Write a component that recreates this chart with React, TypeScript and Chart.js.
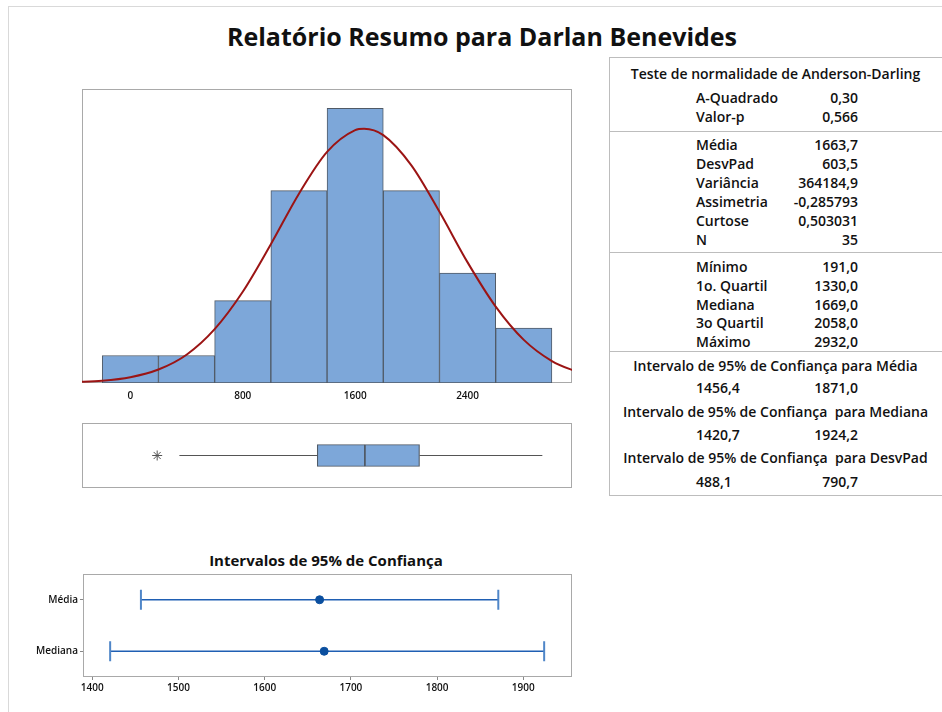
import React, { useEffect, useRef } from "react";
import { Chart, registerables } from "chart.js";

Chart.register(...registerables);

// ---------- data ----------
const TITLE = "Relatório Resumo para Darlan Benevides";

const BIN_CENTERS = [0, 400, 800, 1200, 1600, 2000, 2400, 2800];
const BIN_COUNTS = [1, 1, 3, 7, 10, 7, 4, 2];
const HIST_TICKS = [0, 800, 1600, 2400];
const HIST_X_MIN = -344;
const HIST_X_MAX = 3143;
const HIST_Y_MAX = 10.7;

// fitted normal curve
const CURVE_X = [-400, -200, 0, 200, 400, 600, 800, 1000, 1200, 1400, 1600, 1663.7, 1800, 2000, 2200, 2400, 2600, 2800, 3000, 3200];
const CURVE_Y = [0.03, 0.08, 0.21, 0.49, 1.03, 1.96, 3.32, 5.05, 6.89, 8.41, 9.2, 9.25, 9.02, 7.92, 6.23, 4.39, 2.78, 1.57, 0.8, 0.36];

// boxplot
const BOX_WHISKER_LOW = 349;
const BOX_Q1 = 1330;
const BOX_MEDIAN = 1669;
const BOX_Q3 = 2058;
const BOX_WHISKER_HIGH = 2932;
const BOX_OUTLIERS = [191];

// confidence intervals
const CI_ROWS = ["Média", "Mediana"];
const CI_CENTER = [1663.7, 1669.0];
const CI_LOW = [1456.4, 1420.7];
const CI_HIGH = [1871.0, 1924.2];
const CI_TICKS = [1400, 1500, 1600, 1700, 1800, 1900];
const CI_X_MIN = 1389.2;
const CI_X_MAX = 1956.5;
const CI_TITLE = "Intervalos de 95% de Confiança";

// table
const AD_TITLE = "Teste de normalidade de Anderson-Darling";
const AD_LABELS = ["A-Quadrado", "Valor-p"];
const AD_VALUES = ["0,30", "0,566"];
const MOMENT_LABELS = ["Média", "DesvPad", "Variância", "Assimetria", "Curtose", "N"];
const MOMENT_VALUES = ["1663,7", "603,5", "364184,9", "-0,285793", "0,503031", "35"];
const QUART_LABELS = ["Mínimo", "1o. Quartil", "Mediana", "3o Quartil", "Máximo"];
const QUART_VALUES = ["191,0", "1330,0", "1669,0", "2058,0", "2932,0"];
const CI_TABLE_TITLES = [
  "Intervalo de 95% de Confiança para Média",
  "Intervalo de 95% de Confiança  para Mediana",
  "Intervalo de 95% de Confiança  para DesvPad",
];
const CI_TABLE_LOW = ["1456,4", "1420,7", "488,1"];
const CI_TABLE_HIGH = ["1871,0", "1924,2", "790,7"];

// ---------- styles ----------
const FONT = "'Open Sans', 'Noto Sans', sans-serif";
const BAR_FILL = "#7da7d9";
const BAR_EDGE = "#505a66";
const FRAME = "#a9a9a9";
const CURVE = "#9b1414";
const CI_BLUE = "#1f5fb3";
const CI_CAP = "#4f86c8";
const CI_DOT = "#0b4f9f";
const TICK_FONT = { family: FONT, size: 10, weight: "600" };

const framePlugin = {
  id: "frame",
  beforeDatasetsDraw(chart: any) {
    const { ctx, chartArea: a } = chart;
    ctx.save();
    ctx.strokeStyle = FRAME;
    ctx.lineWidth = 1;
    ctx.strokeRect(
      Math.round(a.left) + 0.5,
      Math.round(a.top) + 0.5,
      Math.round(a.right - a.left) - 1,
      Math.round(a.bottom - a.top) - 1
    );
    ctx.restore();
  },
};

function useChart(ref: React.RefObject<HTMLCanvasElement | null>, make: () => any) {
  useEffect(() => {
    if (!ref.current) return;
    const chart = new Chart(ref.current, make());
    return () => chart.destroy();
  }, []);
}

const zeroPad = (s: any) => {
  s.paddingTop = 0;
  s.paddingBottom = 0;
  s.paddingLeft = 0;
  s.paddingRight = 0;
};

const baseOptions = {
  animation: false,
  responsive: false,
  maintainAspectRatio: false,
  layout: { padding: 0, autoPadding: false },
  plugins: { legend: { display: false }, tooltip: { enabled: false } },
};

function Histogram() {
  const ref = useRef<HTMLCanvasElement>(null);
  useChart(ref, () => ({
    type: "bar",
    data: {
      datasets: [
        {
          type: "line",
          data: CURVE_X.map((x, i) => ({ x, y: CURVE_Y[i] })),
          borderColor: CURVE,
          borderWidth: 2,
          pointRadius: 0,
          cubicInterpolationMode: "monotone",
          order: 0,
        },
        {
          type: "bar",
          data: BIN_CENTERS.map((x, i) => ({ x, y: BIN_COUNTS[i] })),
          backgroundColor: BAR_FILL,
          borderColor: BAR_EDGE,
          borderWidth: 1,
          borderSkipped: false,
          barPercentage: 1,
          categoryPercentage: 1,
          order: 1,
        },
      ],
    },
    plugins: [framePlugin],
    options: {
      ...baseOptions,
      scales: {
        x: {
          type: "linear",
          offset: false,
          min: HIST_X_MIN,
          max: HIST_X_MAX,
          grid: { display: false, offset: false },
          border: { display: false },
          afterBuildTicks: (s: any) => {
            s.ticks = HIST_TICKS.map((v) => ({ value: v }));
          },
          afterFit: (s: any) => {
            s.height = 22;
            zeroPad(s);
          },
          ticks: {
            padding: -1,
            maxRotation: 0,
            color: "#111",
            font: TICK_FONT,
            callback: (v: any) => String(v),
          },
        },
        y: { display: false, min: 0, max: HIST_Y_MAX },
      },
    },
  }));
  return <canvas ref={ref} width={490} height={316} style={{ position: "absolute", left: 82, top: 89 }} />;
}

function BoxPlot() {
  const ref = useRef<HTMLCanvasElement>(null);
  useChart(ref, () => ({
    type: "bar",
    data: {
      datasets: [
        {
          type: "scatter",
          data: [
            { x: BOX_WHISKER_LOW, y: 0 },
            { x: BOX_Q1, y: 0 },
          ],
          showLine: true,
          borderColor: "#555",
          borderWidth: 1,
          pointRadius: 0,
        },
        {
          type: "scatter",
          data: [
            { x: BOX_Q3, y: 0 },
            { x: BOX_WHISKER_HIGH, y: 0 },
          ],
          showLine: true,
          borderColor: "#555",
          borderWidth: 1,
          pointRadius: 0,
        },
        {
          type: "scatter",
          data: BOX_OUTLIERS.map((x) => ({ x, y: 0 })),
          pointStyle: "star",
          pointRadius: 5,
          borderColor: "#555",
          pointBorderWidth: 1,
        },
        {
          type: "bar",
          data: [{ x: [BOX_Q1, BOX_MEDIAN], y: 0 }],
          backgroundColor: BAR_FILL,
          borderColor: BAR_EDGE,
          borderWidth: 1.2,
          borderSkipped: false,
          barThickness: 22,
          grouped: false,
        },
        {
          type: "bar",
          data: [{ x: [BOX_MEDIAN, BOX_Q3], y: 0 }],
          backgroundColor: BAR_FILL,
          borderColor: BAR_EDGE,
          borderWidth: 1.2,
          borderSkipped: false,
          barThickness: 22,
          grouped: false,
        },
      ],
    },
    plugins: [framePlugin],
    options: {
      ...baseOptions,
      indexAxis: "y",
      scales: {
        x: { type: "linear", display: false, offset: false, min: HIST_X_MIN, max: HIST_X_MAX },
        y: { type: "linear", display: false, offset: false, min: -1, max: 1 },
      },
    },
  }));
  return <canvas ref={ref} width={490} height={65} style={{ position: "absolute", left: 82, top: 423 }} />;
}

function CIChart() {
  const ref = useRef<HTMLCanvasElement>(null);
  useChart(ref, () => ({
    type: "scatter",
    data: {
      datasets: [
        {
          data: CI_CENTER.map((x, i) => ({ x, y: CI_ROWS[i] })),
          pointRadius: 4,
          pointBackgroundColor: CI_DOT,
          pointBorderColor: CI_DOT,
          order: 0,
        },
        ...CI_ROWS.map((r, i) => ({
          data: [
            { x: CI_LOW[i], y: r },
            { x: CI_HIGH[i], y: r },
          ],
          showLine: true,
          borderColor: CI_BLUE,
          borderWidth: 1.5,
          pointStyle: "line",
          rotation: 90,
          pointRadius: 10,
          pointBorderWidth: 2,
          pointBorderColor: CI_CAP,
          order: 1,
        })),
      ],
    },
    plugins: [framePlugin],
    options: {
      ...baseOptions,
      scales: {
        x: {
          type: "linear",
          min: CI_X_MIN,
          max: CI_X_MAX,
          grid: { display: true, drawOnChartArea: false, drawTicks: true, tickLength: 3, color: "#888" },
          border: { display: false },
          afterBuildTicks: (s: any) => {
            s.ticks = CI_TICKS.map((v) => ({ value: v }));
          },
          afterFit: (s: any) => {
            s.height = 22;
            zeroPad(s);
          },
          ticks: {
            padding: 2,
            maxRotation: 0,
            color: "#111",
            font: TICK_FONT,
            callback: (v: any) => String(v),
          },
        },
        y: {
          type: "category",
          labels: CI_ROWS,
          offset: true,
          grid: { display: true, drawOnChartArea: false, drawTicks: true, tickLength: 3, color: "#888" },
          border: { display: false },
          afterFit: (s: any) => {
            s.width = 63;
            zeroPad(s);
          },
          ticks: {
            padding: 2,
            color: "#111",
            font: TICK_FONT,
          },
        },
      },
    },
  }));
  return <canvas ref={ref} width={552} height={125} style={{ position: "absolute", left: 20, top: 574 }} />;
}

const textBase: React.CSSProperties = {
  position: "absolute",
  fontFamily: FONT,
  fontWeight: 600,
  fontSize: 14,
  lineHeight: "18px",
  color: "#111",
  whiteSpace: "pre",
};

function Row({ cy, label, value }: { cy: number; label: string; value: string }) {
  return (
    <>
      <div style={{ ...textBase, left: 696, top: cy - 9 }}>{label}</div>
      <div style={{ ...textBase, right: 942 - 858, top: cy - 9, textAlign: "right" }}>{value}</div>
    </>
  );
}

function Centered({ cy, text }: { cy: number; text: string }) {
  return <div style={{ ...textBase, left: 609, width: 333, top: cy - 9, textAlign: "center" }}>{text}</div>;
}

function HLine({ y }: { y: number }) {
  return <div style={{ position: "absolute", left: 609, width: 333, top: y, height: 1, background: "#bdbdbd" }} />;
}

function StatsTable() {
  const AD_Y = [98, 117];
  const MOM_Y = [145, 164, 183, 202, 221, 240];
  const Q_Y = [267, 286, 305, 323, 342];
  const CI_T_Y = [366, 412, 458];
  const CI_V_Y = [388, 435, 482];
  return (
    <>
      <div style={{ position: "absolute", left: 609, top: 57, width: 333, height: 437, borderLeft: "1px solid #bdbdbd", borderTop: "1px solid #bdbdbd", borderBottom: "1px solid #bdbdbd" }} />
      <HLine y={131} />
      <HLine y={252} />
      <HLine y={351} />
      <Centered cy={74} text={AD_TITLE} />
      {AD_LABELS.map((l, i) => (
        <Row key={"a" + i} cy={AD_Y[i]} label={l} value={AD_VALUES[i]} />
      ))}
      {MOMENT_LABELS.map((l, i) => (
        <Row key={"m" + i} cy={MOM_Y[i]} label={l} value={MOMENT_VALUES[i]} />
      ))}
      {QUART_LABELS.map((l, i) => (
        <Row key={"q" + i} cy={Q_Y[i]} label={l} value={QUART_VALUES[i]} />
      ))}
      {CI_TABLE_TITLES.map((t, i) => (
        <React.Fragment key={"c" + i}>
          <Centered cy={CI_T_Y[i]} text={t} />
          <Row cy={CI_V_Y[i]} label={CI_TABLE_LOW[i]} value={CI_TABLE_HIGH[i]} />
        </React.Fragment>
      ))}
    </>
  );
}

export default function App() {
  return (
    <div style={{ position: "fixed", left: 0, top: 0, width: 942, height: 712, background: "#fff", overflow: "hidden" }}>
      <div style={{ position: "absolute", left: 8, top: 6, width: 940, height: 720, borderLeft: "1px solid #d9d9d9", borderTop: "1px solid #d9d9d9" }} />
      <div
        style={{
          position: "absolute",
          left: 0,
          width: 964,
          top: 16,
          textAlign: "center",
          fontFamily: FONT,
          fontWeight: 700,
          fontSize: 25,
          lineHeight: "40px",
          color: "#111",
        }}
      >
        {TITLE}
      </div>
      <Histogram />
      <BoxPlot />
      <div
        style={{
          position: "absolute",
          left: 80,
          width: 492,
          top: 549,
          textAlign: "center",
          fontFamily: FONT,
          fontWeight: 700,
          fontSize: 15,
          lineHeight: "22px",
          color: "#111",
        }}
      >
        {CI_TITLE}
      </div>
      <CIChart />
      <StatsTable />
    </div>
  );
}
